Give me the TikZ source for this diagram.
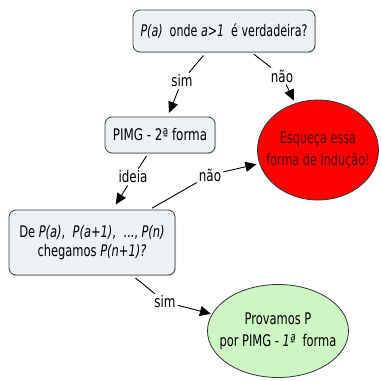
\documentclass[tikz,border=0pt]{standalone}
\usepackage{graphicx}
\usepackage{fontspec}
\setmainfont{DejaVu Sans Condensed}[FakeStretch=0.83]
\usetikzlibrary{shapes.geometric,arrows.meta,shadows}
\definecolor{boxfill}{RGB}{236,242,246}
\definecolor{okfill}{RGB}{206,246,196}
\definecolor{badtext}{RGB}{80,0,0}
\newcommand{\narrow}[2]{\scalebox{#1}[1]{#2}}
\begin{document}
\begin{tikzpicture}[x=1pt,y=-1pt,
  concept/.style={draw=black!75, line width=0.8pt, rounded corners=7pt, fill=boxfill,
    align=center, font=\fontsize{16}{19}\selectfont, inner sep=0pt,
    drop shadow={shadow xshift=1pt, shadow yshift=-1pt, opacity=0.35}},
  oval/.style={ellipse, draw=black!80, line width=0.8pt, align=center,
    font=\fontsize{16}{22}\selectfont, inner ysep=0pt},
  lbl/.style={font=\fontsize{16}{18}\selectfont, inner sep=2pt},
  link/.style={line width=0.9pt, draw=black},
  arr/.style={link, -{Triangle[length=11pt,width=10pt]}}]
\useasboundingbox (0,0) rectangle (381,381);

% concepts
\node[concept, minimum width=182, minimum height=42] (q) at (224,31)
  {\narrow{0.93}{\textit{P(a)}\ \ onde \textit{a>1}\ \ é verdadeira?}};
\node[concept, minimum width=110, minimum height=36] (pimg) at (160,135)
  {PIMG - 2ª forma};
\node[concept, minimum width=166, minimum height=65] (de) at (92,242.5)
  {\narrow{0.96}{De \textit{P(a)},\ \ \textit{P(a+1)},\ \ ..., \textit{P(n)}}\\
   \narrow{0.96}{chegamos \textit{P(n+1)?}}};
\node[oval, fill=red, text=badtext, inner xsep=-13pt,
      minimum width=121, minimum height=100] (esq) at (318,150)
  {\narrow{0.94}{Esqueça essa}\\\narrow{0.94}{forma de Indução!}};
\node[oval, fill=okfill, inner xsep=-9pt,
      minimum width=141, minimum height=93] (prov) at (278,331)
  {\narrow{0.96}{Provamos P}\\\narrow{0.96}{por PIMG - \textit{1ª}\ \ forma}};

% link labels
\node[lbl] (sim1) at (182,81) {sim};
\node[lbl] (nao1) at (282,76) {não};
\node[lbl] (ideia) at (133,177) {ideia};
\node[lbl] (nao2) at (210,175) {não};
\node[lbl] (sim2) at (165,302) {sim};

% links
\draw[link, shorten <=4pt] (q) -- (sim1);
\draw[arr, shorten >=4pt] (sim1) -- (pimg);
\draw[link, shorten <=3pt] (q) -- (nao1);
\draw[arr, shorten >=3pt] (nao1) -- (esq);
\draw[link, shorten <=3pt] (pimg) -- (ideia);
\draw[arr, shorten >=6pt] (ideia) -- (de);
\draw[link, shorten <=3pt] (de) -- (nao2);
\draw[arr, shorten >=3pt] (nao2) -- (esq);
\draw[link, shorten <=4pt] (de) -- (sim2);
\draw[arr, shorten >=1pt] (sim2) -- (prov);
\end{tikzpicture}
\end{document}
